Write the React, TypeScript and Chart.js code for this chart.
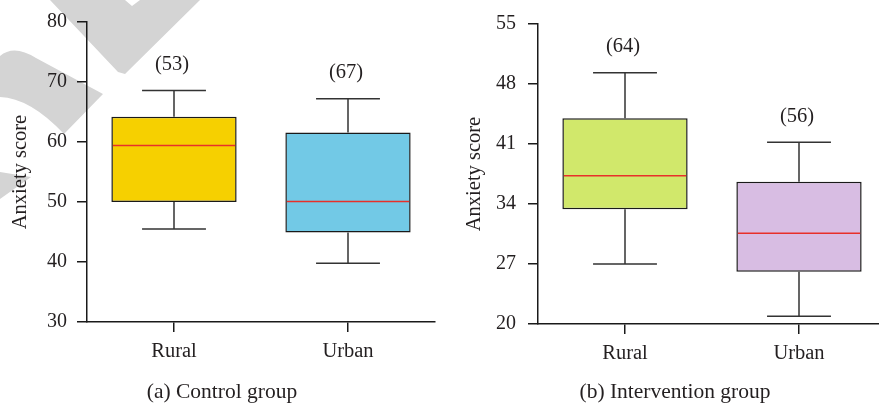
import React, { useEffect, useRef } from "react";
import { Chart, registerables } from "chart.js";

Chart.register(...registerables);

// ---------- data ----------
const categories = ["Rural", "Urban"];

const controlMin = [45.5, 39.8];
const controlQ1 = [50.0, 44.9];
const controlMedian = [59.4, 50.1];
const controlQ3 = [64.2, 61.6];
const controlMax = [68.6, 67.2];
const controlN = ["(53)", "(67)"];
const controlTicks = [30, 40, 50, 60, 70, 80];

const interventionMin = [27.0, 20.9];
const interventionQ1 = [33.4, 26.1];
const interventionMedian = [37.3, 30.6];
const interventionQ3 = [44.0, 36.6];
const interventionMax = [49.3, 41.2];
const interventionN = ["(64)", "(56)"];
const interventionTicks = [20, 27, 34, 41, 48, 55];

const controlColors = ["#F6D000", "#72C9E6"];
const interventionColors = ["#D1E86B", "#D8BDE3"];

const FONT = "'Liberation Serif', 'Times New Roman', serif";
const TEXT = "#231f20";

type Stats = {
  min: number[];
  q1: number[];
  median: number[];
  q3: number[];
  max: number[];
  n: string[];
};

function makePlugin(stats: Stats, caption: string, captionX: number, watermark: boolean) {
  return {
    id: "boxWhiskers",
    beforeDraw(chart: any) {
      if (!watermark) return;
      const ctx = chart.ctx;
      ctx.save();
      ctx.fillStyle = "#d4d4d4";
      // top chevron
      ctx.beginPath();
      ctx.moveTo(50, 0);
      ctx.lineTo(118, 72);
      ctx.lineTo(125, 74);
      ctx.lineTo(200, 0);
      ctx.lineTo(140, 0);
      ctx.lineTo(132, 6);
      ctx.lineTo(125, 0);
      ctx.closePath();
      ctx.fill();
      // curved band
      ctx.beginPath();
      ctx.moveTo(0, 56);
      ctx.quadraticCurveTo(14, 44, 36, 58);
      ctx.lineTo(103, 94);
      ctx.lineTo(64, 134);
      ctx.quadraticCurveTo(30, 98, 0, 97);
      ctx.closePath();
      ctx.fill();
      // lower fragment
      ctx.beginPath();
      ctx.moveTo(0, 172);
      ctx.lineTo(31, 177);
      ctx.lineTo(0, 199);
      ctx.closePath();
      ctx.fill();
      ctx.restore();
    },
    afterDatasetsDraw(chart: any) {
      const ctx = chart.ctx;
      const y = chart.scales.y;
      const meta = chart.getDatasetMeta(0);
      ctx.save();
      meta.data.forEach((bar: any, i: number) => {
        const { x, width } = bar.getProps(["x", "width"], true);
        const yMin = y.getPixelForValue(stats.min[i]);
        const yQ1 = y.getPixelForValue(stats.q1[i]);
        const yMed = y.getPixelForValue(stats.median[i]);
        const yQ3 = y.getPixelForValue(stats.q3[i]);
        const yMax = y.getPixelForValue(stats.max[i]);
        const cap = width * 0.255;
        ctx.strokeStyle = "#333333";
        ctx.lineWidth = 1.5;
        ctx.beginPath();
        ctx.moveTo(x, yQ3);
        ctx.lineTo(x, yMax);
        ctx.moveTo(x - cap, yMax);
        ctx.lineTo(x + cap, yMax);
        ctx.moveTo(x, yQ1);
        ctx.lineTo(x, yMin);
        ctx.moveTo(x - cap, yMin);
        ctx.lineTo(x + cap, yMin);
        ctx.stroke();
        ctx.strokeStyle = "#E8302A";
        ctx.lineWidth = 1.5;
        ctx.beginPath();
        ctx.moveTo(x - width / 2 + 1.5, yMed);
        ctx.lineTo(x + width / 2 - 1.5, yMed);
        ctx.stroke();
        ctx.fillStyle = TEXT;
        ctx.font = `20.5px ${FONT}`;
        ctx.textAlign = "center";
        ctx.textBaseline = "middle";
        ctx.fillText(stats.n[i], x - 2, yMax - 26);
      });
      ctx.fillStyle = TEXT;
      ctx.font = `21.5px ${FONT}`;
      ctx.textAlign = "center";
      ctx.textBaseline = "middle";
      ctx.fillText(caption, captionX, 392);
      ctx.restore();
    },
  };
}

function makeConfig(opts: {
  stats: Stats;
  colors: string[];
  ticks: number[];
  yAxisWidth: number;
  xAxisHeight: number;
  top: number;
  right: number;
  tickPad: number;
  titlePad: number;
  caption: string;
  captionX: number;
  watermark: boolean;
}) {
  const { stats, colors, ticks } = opts;
  return {
    type: "bar",
    data: {
      labels: categories,
      datasets: [
        {
          data: categories.map((_, i) => [stats.q1[i], stats.q3[i]]),
          backgroundColor: colors,
          borderColor: "#1a1a1a",
          borderWidth: 1.5,
          borderSkipped: false,
          barPercentage: 0.72,
          categoryPercentage: 1,
        },
      ],
    },
    options: {
      responsive: false,
      animation: false,
      devicePixelRatio: 1,
      layout: { padding: { top: opts.top, right: opts.right, left: 0, bottom: 0 } },
      plugins: {
        legend: { display: false },
        tooltip: { enabled: false },
        title: { display: false },
      },
      scales: {
        x: {
          type: "category",
          offset: true,
          grid: {
            offset: false,
            drawOnChartArea: false,
            drawTicks: true,
            tickLength: 10,
            color: "#1a1a1a",
            lineWidth: 1.5,
          },
          border: { display: true, color: "#1a1a1a", width: 1.5 },
          ticks: {
            font: { family: FONT, size: 20.5 },
            color: TEXT,
            padding: 7,
            maxRotation: 0,
          },
          afterFit(scale: any) {
            scale.height = opts.xAxisHeight;
          },
        },
        y: {
          min: ticks[0],
          max: ticks[ticks.length - 1],
          afterBuildTicks(scale: any) {
            scale.ticks = ticks.map((v) => ({ value: v }));
          },
          grid: {
            drawOnChartArea: false,
            drawTicks: true,
            tickLength: 10,
            color: "#1a1a1a",
            lineWidth: 1.5,
          },
          border: { display: true, color: "#1a1a1a", width: 1.5 },
          ticks: {
            font: { family: FONT, size: 20 },
            color: TEXT,
            padding: opts.tickPad,
            autoSkip: false,
          },
          title: {
            display: true,
            text: "Anxiety score",
            font: { family: FONT, size: 20.5 },
            color: TEXT,
            padding: { top: opts.titlePad, bottom: 0 },
          },
          afterFit(scale: any) {
            scale.width = opts.yAxisWidth;
          },
        },
      },
    },
    plugins: [makePlugin(stats, opts.caption, opts.captionX, opts.watermark)],
  } as any;
}

export default function App() {
  const leftRef = useRef<HTMLCanvasElement>(null);
  const rightRef = useRef<HTMLCanvasElement>(null);

  useEffect(() => {
    const left = new Chart(
      leftRef.current as HTMLCanvasElement,
      makeConfig({
        stats: {
          min: controlMin,
          q1: controlQ1,
          median: controlMedian,
          q3: controlQ3,
          max: controlMax,
          n: controlN,
        },
        colors: controlColors,
        ticks: controlTicks,
        yAxisWidth: 87,
        xAxisHeight: 84,
        top: 18,
        right: 5,
        tickPad: 10,
        titlePad: 8,
        caption: "(a) Control group",
        captionX: 222,
        watermark: true,
      })
    );
    const right = new Chart(
      rightRef.current as HTMLCanvasElement,
      makeConfig({
        stats: {
          min: interventionMin,
          q1: interventionQ1,
          median: interventionMedian,
          q3: interventionQ3,
          max: interventionMax,
          n: interventionN,
        },
        colors: interventionColors,
        ticks: interventionTicks,
        yAxisWidth: 98,
        xAxisHeight: 82,
        top: 20,
        right: 6,
        tickPad: 12,
        titlePad: 22,
        caption: "(b) Intervention group",
        captionX: 235,
        watermark: false,
      })
    );
    return () => {
      left.destroy();
      right.destroy();
    };
  }, []);

  return (
    <div
      style={{
        position: "fixed",
        left: 0,
        top: 0,
        width: 879,
        height: 406,
        overflow: "hidden",
        background: "#ffffff",
      }}
    >
      <canvas
        ref={leftRef}
        width={440}
        height={406}
        style={{ position: "absolute", left: 0, top: 0, width: 440, height: 406 }}
      />
      <canvas
        ref={rightRef}
        width={452}
        height={406}
        style={{ position: "absolute", left: 440, top: 0, width: 452, height: 406 }}
      />
    </div>
  );
}
